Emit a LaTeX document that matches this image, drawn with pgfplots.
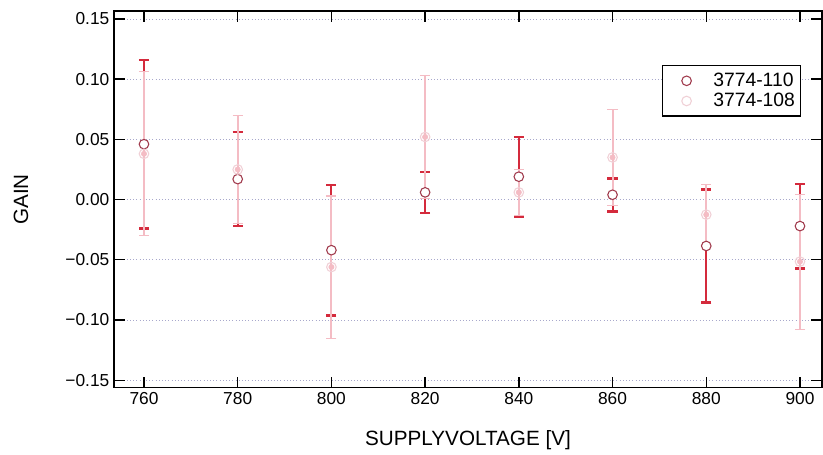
\documentclass[border=0pt]{standalone}
\usepackage{pgfplots}
\pgfplotsset{compat=1.18}
\usepackage{pgfplotstable}
\usepackage{fontspec}
\setmainfont{Liberation Sans}
\definecolor{redbar}{HTML}{D42A3C}
\definecolor{redmark}{HTML}{A03A4C}
\definecolor{pinkbar}{HTML}{F4BCC4}
\definecolor{pinkmark}{HTML}{F0D0D6}
\definecolor{gridc}{HTML}{A8A8CC}
\pgfplotstableread{
x y e
760 0.046 0.070
780 0.017 0.039
800 -0.042 0.054
820 0.006 0.017
840 0.019 0.033
860 0.004 0.0137
880 -0.0385 0.047
900 -0.022 0.035
}\seriesA
\pgfplotstableread{
x y e
760 0.038 0.068
780 0.025 0.045
800 -0.056 0.059
820 0.052 0.051
840 0.006 0.019
860 0.035 0.040
880 -0.0125 0.025
900 -0.0515 0.056
}\seriesB
\begin{document}
\begin{tikzpicture}
\begin{axis}[
  name=ax,
  scale only axis,
  width=531pt, height=282.2pt,
  xmin=753.6, xmax=904.7,
  ymin=-0.1561, ymax=0.1563,
  xtick={760,780,...,900},
  ytick={-0.15,-0.10,-0.05,0,0.05,0.10,0.15},
  yticklabels={−0.15,−0.10,−0.05,0.00,0.05,0.10,0.15},
  /pgf/number format/assume math mode=true,
  ticklabel style={font=\fontsize{13}{15}\selectfont},
  tick align=inside,
  major tick length=8pt,
  tick style={black, line width=1pt},
  axis line style={black, line width=1.3pt},
  ymajorgrids,
  grid style={gridc, dotted, line width=0.6pt},
  xlabel={SUPPLYVOLTAGE [V]},
  ylabel={GAIN},
  label style={font=\fontsize{15.5}{18}\selectfont},
  xlabel style={yshift=-12.5pt},
  ylabel style={yshift=21pt},
  legend image code/.code={\path[draw=none,fill=none] (0pt,0pt) -- (30pt,0pt); \draw[#1, only marks] plot coordinates {(16pt,0pt)};},
  legend style={at={(0.774,0.857)}, anchor=north west, draw=black, line width=0.9pt,
    font=\fontsize{14.5}{17}\selectfont, row sep=-0.5pt, inner xsep=2pt, inner ysep=3.5pt,
    /tikz/every odd column/.append style={column sep=4pt}},
  legend cell align=left,
]
% error bars series 1
\addplot[forget plot, color=redbar, only marks, mark=none,
  error bars/.cd, y dir=both, y explicit,
  error bar style={line width=1.5pt, redbar},
  error mark options={rotate=90, redbar, mark size=3.8pt, line width=2pt}]
  table[x=x, y=y, y error=e] {\seriesA};
% error bars series 2
\addplot[forget plot, color=pinkbar, only marks, mark=none,
  error bars/.cd, y dir=both, y explicit,
  error bar style={line width=1.5pt, pinkbar},
  error mark options={rotate=90, pinkbar, mark size=3.8pt, line width=0.8pt}]
  table[x=x, y=y, y error=e] {\seriesB};
% markers
\addplot[only marks, mark=*, mark size=3.6pt, draw=redmark, fill=white, mark options={draw=redmark, fill=white, line width=0.8pt}]
  table[x=x, y=y] {\seriesA};
\addlegendentry{3774-110}
\addplot[only marks, mark=o, mark size=3.6pt, draw=pinkmark, mark options={draw=pinkmark, line width=0.8pt}]
  table[x=x, y=y] {\seriesB};
\addlegendentry{3774-108}
\end{axis}
\pgfresetboundingbox
\path (ax.south west) ++(-85.5pt,-50.25pt) coordinate (bbsw);
\path (ax.north east) ++(0.75pt,8.5pt) coordinate (bbne);
\path[use as bounding box] (bbsw) rectangle (bbne);
\end{tikzpicture}
\end{document}
